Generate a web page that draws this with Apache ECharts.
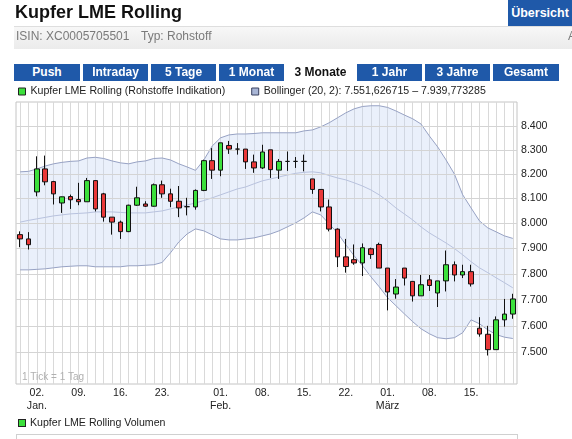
<!DOCTYPE html>
<html><head><meta charset="utf-8">
<script src="https://cdn.jsdelivr.net/npm/echarts@6.0.0/dist/echarts.min.js"></script>
<style>
body{margin:0;width:572px;height:439px;overflow:hidden;background:#fff;font-family:"Liberation Sans",Arial,sans-serif;position:relative}
#chart{position:absolute;left:0;top:0;width:572px;height:439px}
.abs{position:absolute;white-space:nowrap}
.tab{position:absolute;top:64px;height:17px;line-height:17px;background:#1f59a9;color:#fff;font-weight:bold;font-size:12px;text-align:center}
</style></head><body>
<div id="chart"></div>
<div class="abs" style="left:15px;top:2px;font-size:18px;line-height:21px;font-weight:bold;color:#111">Kupfer LME Rolling</div>
<div class="abs" style="left:508px;top:0;width:64px;height:26px;background:#1f59a9;color:#fff;font-weight:bold;font-size:12.5px;line-height:26px;text-align:center">Übersicht</div>
<div class="abs" style="left:14px;top:26px;width:558px;height:22px;border-top:1px solid #dedede;background:linear-gradient(#f7f7f7,#ebebeb)"></div>
<div class="abs" style="left:16px;top:29px;font-size:12px;line-height:14px;color:#7a7a7a">ISIN: XC0005705501</div>
<div class="abs" style="left:141px;top:29px;font-size:12px;line-height:14px;color:#7a7a7a">Typ: Rohstoff</div>
<div class="abs" style="left:568px;top:29px;font-size:12px;line-height:14px;color:#7a7a7a">A</div>
<div class="tab" style="left:14px;width:66px">Push</div>
<div class="tab" style="left:83px;width:65px">Intraday</div>
<div class="tab" style="left:151px;width:65px">5 Tage</div>
<div class="tab" style="left:219px;width:65px">1 Monat</div>
<div class="tab" style="left:287px;width:67px;background:#fff;color:#111">3 Monate</div>
<div class="tab" style="left:357px;width:65px">1 Jahr</div>
<div class="tab" style="left:425px;width:65px">3 Jahre</div>
<div class="tab" style="left:493px;width:66px">Gesamt</div>
<div class="abs" style="left:18px;top:419px;width:6px;height:6px;border:1px solid #222;background:#3ce03c"></div>
<div class="abs" style="left:30px;top:416px;font-size:10.6px;line-height:13px;color:#222">Kupfer LME Rolling Volumen</div>
<div class="abs" style="left:16px;top:434px;width:500px;height:20px;border:1px solid #d0d0d0"></div>
<script>
const categories = ['28.12.','31.12.','02.01.','03.01.','04.01.','07.01.','08.01.','09.01.','10.01.','11.01.','14.01.','15.01.','16.01.','17.01.','18.01.','21.01.','22.01.','23.01.','24.01.','25.01.','28.01.','29.01.','30.01.','31.01.','01.02.','04.02.','05.02.','06.02.','07.02.','08.02.','11.02.','12.02.','13.02.','14.02.','15.02.','18.02.','19.02.','20.02.','21.02.','22.02.','25.02.','26.02.','27.02.','28.02.','01.03.','04.03.','05.03.','06.03.','07.03.','08.03.','11.03.','12.03.','13.03.','14.03.','15.03.','18.03.','19.03.','20.03.','21.03.','22.03.'];
const openV = [7955,7938,8127,8221,8169,8082,8108,8096,8087,8173, 8119,8025,8005,7967,8073,8078,8069,8156,8119,8089, 8067,8066,8133,8255,8216,8318,8303,8303,8250,8225, 8300,8216,8252,8252,8252,8180,8137,8066,7977,7867, 7856,7843,7899,7916,7823,7722,7823,7771,7715,7777, 7726,7773,7836,7796,7809,7591,7568,7510,7623,7645];
const closeV = [7938,7915,8221,8168,8119,8107,8095,8087,8173,8058, 8025,8005,7967,8073,8103,8069,8156,8119,8089,8062, 8067,8133,8255,8216,8329,8303,8303,8250,8225,8291, 8218,8252,8252,8252,8252,8137,8066,7977,7867,7829, 7843,7903,7876,7823,7730,7749,7784,7715,7758,7755, 7773,7836,7796,7809,7761,7569,7510,7623,7645,7703];
const lowV = [7905,7896,8109,8154,8076,8042,8058,8073,8087,8048, 8007,7955,7938,7965,8070,8066,8067,8103,8065,8025, 8032,8055,8130,8180,8191,8283,8280,8221,8205,8221, 8184,8180,8213,8225,8211,8119,8048,7968,7827,7805, 7836,7792,7859,7823,7659,7704,7755,7693,7715,7734, 7672,7732,7771,7784,7751,7559,7488,7510,7597,7627];
const highV = [7968,7965,8273,8276,8172,8108,8116,8164,8184,8175, 8123,8025,8011,8075,8148,8089,8161,8173,8140,8151, 8103,8137,8259,8307,8329,8337,8328,8303,8280,8321, 8300,8262,8293,8270,8280,8180,8137,8096,7980,7938, 7916,7920,7903,7923,7823,7780,7823,7771,7796,7796, 7773,7892,7849,7836,7836,7633,7600,7636,7703,7723];
const bbUpper = [8209,8211,8221,8233,8242,8248,8252,8254,8266,8269, 8264,8254,8246,8242,8250,8254,8264,8266,8258,8242, 8229,8215,8258,8316,8350,8362,8366,8366,8368,8371, 8371,8371,8371,8371,8379,8383,8396,8413,8434,8455, 8472,8482,8485,8485,8478,8463,8446,8430,8408,8358, 8312,8258,8200,8115,8062,8010,7982,7966,7950,7940];
const bbMiddle = [8005,8012,8018,8024,8030,8034,8038,8040,8042,8046, 8046,8046,8044,8042,8042,8042,8046,8050,8058,8066, 8074,8082,8092,8103,8115,8127,8139,8147,8160,8172, 8180,8188,8196,8203,8207,8209,8205,8194,8184,8176, 8164,8151,8135,8115,8090,8062,8038,8014,7986,7962, 7942,7922,7900,7875,7848,7824,7805,7785,7766,7746];
const bbLower = [7816,7816,7818,7820,7824,7828,7830,7832,7832,7828, 7828,7828,7828,7832,7832,7834,7836,7845,7883,7926, 7958,7978,7970,7954,7938,7934,7934,7938,7942,7950, 7958,7970,7986,8002,8022,8046,8034,7998,7962,7915, 7871,7832,7789,7750,7708,7677,7646,7616,7589,7570, 7555,7551,7555,7574,7623,7608,7585,7567,7557,7552];
const yTicks = [7500,7600,7700,7800,7900,8000,8100,8200,8300,8400];
const tickDates = ['02.01.','09.01.','16.01.','23.01.','01.02.','08.02.','15.02.','22.02.','01.03.','08.03.','15.03.'];
const tickLabels = ['02.\nJan.','09.','16.','23.','01.\nFeb.','08.','15.','22.','01.\nMärz','08.','15.'];
const nameMain = 'Kupfer LME Rolling (Rohstoffe Indikation)';
const nameBB = 'Bollinger (20, 2): 7.551,626715 – 7.939,773285';

const FONT = '"Liberation Sans", Arial, sans-serif';
const fmt = v => Math.floor(v/1000) + '.' + String(Math.round(v%1000)).padStart(3,'0');
const ohlc = categories.map((c,i) => [openV[i], closeV[i], lowV[i], highV[i]]);
const bandWidth = bbUpper.map((u,i) => u - bbLower[i]);

const chart = echarts.init(document.getElementById('chart'), null, {renderer:'canvas'});
chart.setOption({
  animation: false,
  textStyle: {fontFamily: FONT},
  legend: {
    left: 18, top: 86, padding: 0, itemWidth: 7, itemHeight: 7, itemGap: 26,
    selectedMode: false,
    textStyle: {fontSize: 10.6, color: '#222', fontFamily: FONT},
    data: [
      {name: nameMain, icon: 'rect', itemStyle: {color: '#3ce03c', borderColor: '#222', borderWidth: 1}},
      {name: nameBB, icon: 'rect', itemStyle: {color: '#a9b6d6', borderColor: '#3a4260', borderWidth: 1}}
    ]
  },
  grid: {left: 16, right: 55, top: 102, bottom: 55, show: true, borderColor: '#c4c4c4', borderWidth: 1, backgroundColor: '#fff'},
  graphic: [{type: 'text', left: 22, top: 372, z: 20, style: {text: '1 Tick = 1 Tag', fill: '#b0b0b0', font: '10px ' + FONT}}],
  xAxis: {
    type: 'category', data: categories, boundaryGap: true,
    axisLine: {show: false}, axisTick: {show: false},
    axisLabel: {
      interval: (idx, val) => tickDates.indexOf(val) >= 0,
      formatter: v => tickLabels[tickDates.indexOf(v)] || '',
      fontSize: 10.6, color: '#222', margin: 3, lineHeight: 13, fontFamily: FONT
    },
    splitLine: {show: true, interval: 0, alignWithLabel: true, lineStyle: {color: '#d9d9d9', width: 1}}
  },
  yAxis: {
    type: 'log', logBase: 10, min: 7382, max: 8501,
    axisLine: {show: false}, axisTick: {show: false}, axisLabel: {show: false}, splitLine: {show: false}
  },
  series: [
    {
      name: 'bbLower', type: 'line', data: bbLower, stack: 'bb', symbol: 'none', z: 2,
      lineStyle: {color: '#97a2c4', width: 1}, silent: true
    },
    {
      name: nameBB, type: 'line', data: bandWidth, stack: 'bb', symbol: 'none', z: 2,
      lineStyle: {color: '#97a2c4', width: 1},
      areaStyle: {color: 'rgba(196,213,244,0.5)', origin: 'auto'}, silent: true
    },
    {
      name: 'bbMiddle', type: 'line', data: bbMiddle, symbol: 'none', z: 3,
      lineStyle: {color: '#b8c2de', width: 1}, silent: true
    },
    {
      name: nameMain, type: 'candlestick', data: ohlc, barWidth: 5, z: 10,
      itemStyle: {color: '#3ce03c', color0: '#e83838', borderColor: '#111', borderColor0: '#111', borderWidth: 1},
      markLine: {
        silent: true, symbol: ['none', 'none'], animation: false,
        lineStyle: {color: '#d4d4d4', width: 1, type: 'solid'},
        label: {position: 'end', formatter: p => fmt(p.value), color: '#222', fontSize: 10.6, distance: 4, fontFamily: FONT},
        emphasis: {disabled: true},
        data: yTicks.map(v => ({yAxis: v}))
      }
    }
  ]
});
</script>
</body></html>
